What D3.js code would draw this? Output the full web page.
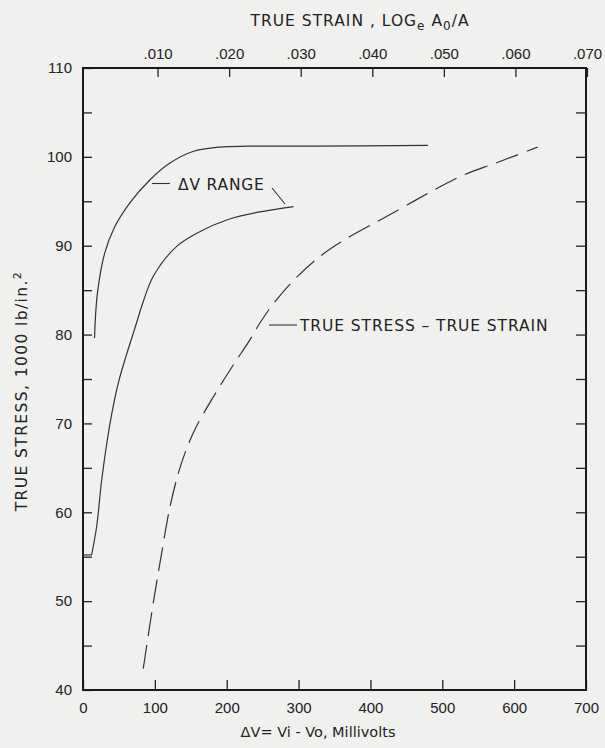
<!DOCTYPE html>
<html>
<head>
<meta charset="utf-8">
<script src="https://cdn.jsdelivr.net/npm/d3@7"></script>
<style>
  body { margin: 0; background: #f0f0ee; }
  svg { display: block; font-family: "DejaVu Sans", sans-serif; }
  .tick line { stroke: #222; stroke-width: 1.3; }
  .tick text { fill: #222; font-size: 15px; }
  .lbl { fill: #222; font-size: 15.5px; letter-spacing: 0.8px; }
</style>
</head>
<body>
<script>
// bottom axis: delta V in millivolts, left axis: true stress (1000 lb/in.2)
const mvTicks = [0, 100, 200, 300, 400, 500, 600, 700]
const strainTicks = [0.01, 0.02, 0.03, 0.04, 0.05, 0.06, 0.07]
const stressTicks = [40, 45, 50, 55, 60, 65, 70, 75, 80, 85, 90, 95, 100, 105, 110]

// upper ΔV range curve
const upperMv     = [16, 20, 30, 44, 65, 93, 121, 153, 190, 230, 320, 480]
const upperStress = [79.6, 84.6, 89.1, 92.1, 94.8, 97.4, 99.3, 100.6, 101.1, 101.2, 101.2, 101.3]

// lower ΔV range curve (starts with a short flat stub from the axis)
const lowerMv     = [0, 12, 19, 26, 37.6, 49, 60, 71, 83, 98, 130, 163, 200, 246, 293]
const lowerStress = [55.2, 55.2, 58.4, 63.6, 70, 74.5, 77.6, 80.4, 83.5, 86.6, 89.9, 91.6, 92.9, 93.8, 94.4]

// true stress - true strain (dashed, read on top axis)
const trueStrain = [0.0080, 0.0094, 0.01057, 0.01173, 0.0129, 0.0138, 0.0152, 0.0178, 0.0206, 0.0229,
                    0.0243, 0.0262, 0.0290, 0.0327, 0.0364, 0.0418, 0.0460, 0.0494, 0.0529, 0.0569, 0.0602, 0.0631]
const trueStress = [42.4, 49.8, 55.4, 60.6, 64.4, 66.6, 69.3, 73.0, 76.6, 79.4,
                    81.3, 83.5, 86.1, 88.8, 90.8, 93.2, 95.1, 96.6, 98.0, 99.2, 100.2, 101.1]

const W = 605, H = 748
const box = {left: 83, right: 586, top: 68, bottom: 690}

const svg = d3.select("body").append("svg").attr("width", W).attr("height", H)

const x = d3.scaleLinear().domain([0, 700]).range([box.left, box.right])
const xTop = d3.scaleLinear().domain([0, 0.07]).range([86, 587])
const y = d3.scaleLinear().domain([40, 110]).range([box.bottom, box.top])

// axes - ticks all point inward
svg.append("g")
  .attr("transform", `translate(0,${box.bottom})`)
  .call(d3.axisBottom(x).tickValues(mvTicks).tickSizeInner(-10).tickSizeOuter(0).tickPadding(12).tickFormat(d3.format("d")))
  .call(g => g.select(".domain").remove())

svg.append("g")
  .attr("transform", `translate(0,${box.top})`)
  .call(d3.axisTop(xTop).tickValues(strainTicks).tickSizeInner(-9).tickSizeOuter(0).tickPadding(9)
    .tickFormat(d => d3.format(".3f")(d).replace(/^0/, "")))
  .call(g => g.select(".domain").remove())

svg.append("g")
  .attr("transform", `translate(${box.left},0)`)
  .call(d3.axisLeft(y).tickValues(stressTicks).tickSizeInner(-9).tickSizeOuter(0).tickPadding(11)
    .tickFormat(d => d % 10 === 0 ? d : ""))
  .call(g => g.select(".domain").remove())

svg.append("g")
  .attr("transform", `translate(${box.right},0)`)
  .call(d3.axisRight(y).tickValues(stressTicks.filter(d => d > 40 && d < 110)).tickSizeInner(-10).tickSizeOuter(0).tickFormat(""))
  .call(g => g.select(".domain").remove())

// frame
svg.append("rect")
  .attr("x", box.left).attr("y", box.top)
  .attr("width", box.right - box.left).attr("height", box.bottom - box.top)
  .attr("fill", "none").attr("stroke", "#1a1a1a").attr("stroke-width", 2)

// curves
const smooth = d3.line().curve(d3.curveCatmullRom.alpha(0.5))
const straight = d3.line()

const lowerPts = lowerMv.map((d, i) => [x(d), y(lowerStress[i])])
const curves = [
  {d: smooth(upperMv.map((d, i) => [x(d), y(upperStress[i])])), dash: null},
  {d: straight(lowerPts.slice(0, 2)), dash: null},
  {d: smooth(lowerPts.slice(1)), dash: null},
  {d: smooth(trueStrain.map((d, i) => [xTop(d), y(trueStress[i])])), dash: "24,9"}
]

svg.selectAll("path.curve")
  .data(curves)
  .join("path")
  .attr("class", "curve")
  .attr("d", d => d.d)
  .attr("fill", "none")
  .attr("stroke", "#333")
  .attr("stroke-width", 1.2)
  .attr("stroke-dasharray", d => d.dash)

// annotations
svg.append("line").attr("x1", 152).attr("y1", 183.5).attr("x2", 170).attr("y2", 183.5)
  .attr("stroke", "#333").attr("stroke-width", 1.1)
svg.append("line").attr("x1", 272).attr("y1", 188).attr("x2", 285).attr("y2", 204)
  .attr("stroke", "#333").attr("stroke-width", 1.1)
svg.append("text").attr("class", "lbl").attr("x", 178).attr("y", 190).text("ΔV RANGE")

svg.append("line").attr("x1", 269).attr("y1", 325).attr("x2", 297).attr("y2", 325)
  .attr("stroke", "#333").attr("stroke-width", 1.1)
svg.append("text").attr("class", "lbl").attr("x", 300).attr("y", 331).style("letter-spacing", "0.9px")
  .text("TRUE STRESS – TRUE STRAIN")

// axis titles
const topTitle = svg.append("text").attr("class", "lbl").attr("x", 360).attr("y", 26).attr("text-anchor", "middle")
  .style("letter-spacing", "1px")
topTitle.append("tspan").text("TRUE STRAIN , LOG")
topTitle.append("tspan").attr("dy", 4).attr("font-size", 12).text("e")
topTitle.append("tspan").attr("dy", -4).text(" A")
topTitle.append("tspan").attr("dy", 4).attr("font-size", 12).text("0")
topTitle.append("tspan").attr("dy", -4).text("/A")

const leftTitle = svg.append("text").attr("class", "lbl")
  .attr("transform", "translate(27,391) rotate(-90)").attr("text-anchor", "middle").style("letter-spacing", "1.4px")
leftTitle.append("tspan").text("TRUE STRESS,  1000 lb/in.")
leftTitle.append("tspan").attr("dy", -6).attr("font-size", 11).text("2")

svg.append("text").attr("class", "lbl").attr("x", 318).attr("y", 737)
  .attr("text-anchor", "middle").style("letter-spacing", "0px").style("font-size", "14.5px")
  .text("ΔV= Vi - Vo, Millivolts")
</script>
</body>
</html>
